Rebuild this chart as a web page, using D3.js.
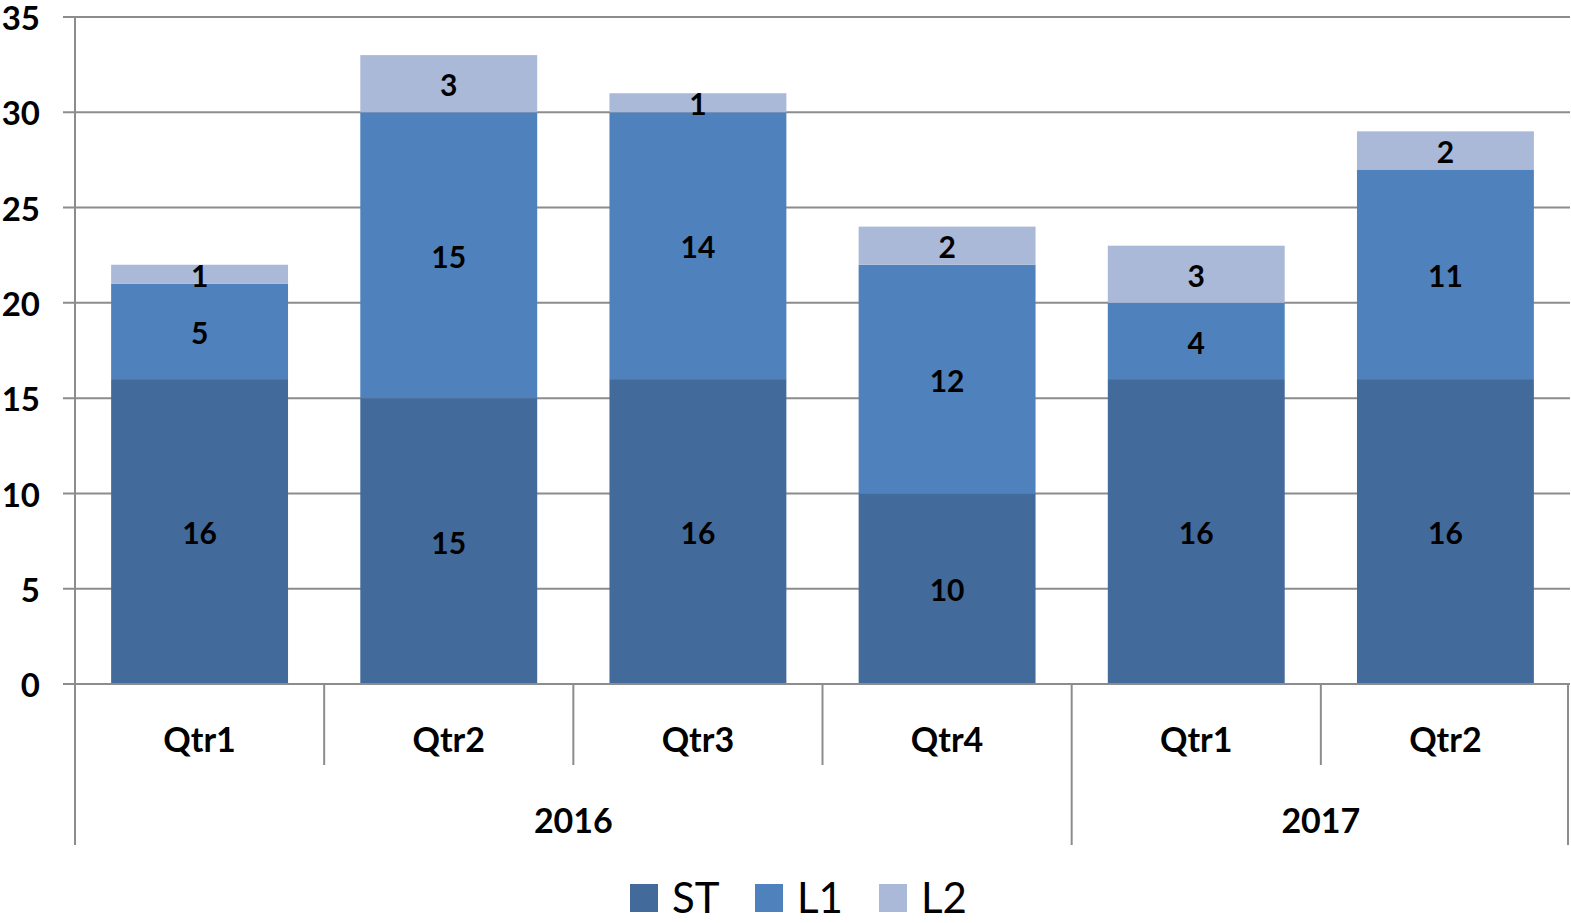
<!DOCTYPE html>
<html>
<head>
<meta charset="utf-8">
<script src="https://cdn.jsdelivr.net/npm/d3@7"></script>
<style>
  body { margin: 0; background: #fff; }
  text { font-family: Lato, "Open Sans", sans-serif; fill: #000; }
</style>
</head>
<body>
<div id="root"></div>
<script>
const width = 1571;
const height = 923;

const years = ['2016', '2016', '2016', '2016', '2017', '2017'];
const quarters = ['Qtr1', 'Qtr2', 'Qtr3', 'Qtr4', 'Qtr1', 'Qtr2'];
const seriesNames = ['ST', 'L1', 'L2'];
const ST = [16, 15, 16, 10, 16, 16];
const L1 = [5, 15, 14, 12, 4, 11];
const L2 = [1, 3, 1, 2, 3, 2];
const yTicks = [0, 5, 10, 15, 20, 25, 30, 35];

const colors = {ST: '#426a9b', L1: '#4f81bd', L2: '#aab9d7'};
const gridColor = '#8c8c8c';

const padding = {left: 75, right: 1, top: 17, bottom: 239};

const svg = d3.select('#root')
  .append('svg')
  .attr('width', width).attr('height', height);

const table = quarters.map((q, i) => ({i: i, ST: ST[i], L1: L1[i], L2: L2[i]}));
const stacked = d3.stack().keys(seriesNames)(table);

const xScale = d3.scaleBand()
  .domain(d3.range(quarters.length))
  .range([padding.left, width - padding.right])
  .paddingInner(0.29)
  .paddingOuter(0.145);

const yScale = d3.scaleLinear()
  .domain([0, 35])
  .range([height - padding.bottom, padding.top]);

const y0 = yScale(0);
const step = xScale.step();
const bandStart = i => padding.left + i * (width - padding.left - padding.right) / quarters.length;

// gridlines (with short ticks on the left)
svg.append('g')
  .selectAll('line')
  .data(yTicks)
  .enter()
  .append('line')
  .attr('x1', padding.left - 12)
  .attr('x2', width - padding.right)
  .attr('y1', d => yScale(d))
  .attr('y2', d => yScale(d))
  .attr('stroke', gridColor)
  .attr('stroke-width', 2);

// y axis line
svg.append('line')
  .attr('x1', padding.left).attr('x2', padding.left)
  .attr('y1', padding.top).attr('y2', y0)
  .attr('stroke', gridColor).attr('stroke-width', 2);

// y labels
svg.append('g')
  .selectAll('text')
  .data(yTicks)
  .enter()
  .append('text')
  .attr('x', 40)
  .attr('y', d => yScale(d))
  .attr('dy', '0.4em')
  .attr('text-anchor', 'end')
  .attr('font-size', 33)
  .attr('font-weight', 'bold')
  .text(d => d);

// bars
const layers = svg.append('g')
  .selectAll('g')
  .data(stacked)
  .enter()
  .append('g')
  .attr('fill', d => colors[d.key]);

layers.selectAll('rect')
  .data(d => d)
  .enter()
  .append('rect')
  .attr('x', (d, i) => xScale(i))
  .attr('width', xScale.bandwidth())
  .attr('y', d => yScale(d[1]))
  .attr('height', d => yScale(d[0]) - yScale(d[1]));

// data labels
layers.selectAll('text')
  .data(d => d.map(v => ({v: v, key: d.key})))
  .enter()
  .append('text')
  .attr('x', (d, i) => xScale(i) + xScale.bandwidth() / 2)
  .attr('y', d => yScale((d.v[0] + d.v[1]) / 2))
  .attr('dy', '0.42em')
  .attr('text-anchor', 'middle')
  .attr('font-size', 30)
  .attr('font-weight', 'bold')
  .text(d => d.v[1] - d.v[0]);

// redraw the zero line over the bars
svg.append('line')
  .attr('x1', padding.left - 12).attr('x2', width - padding.right)
  .attr('y1', y0).attr('y2', y0)
  .attr('stroke', gridColor).attr('stroke-width', 2);

// quarter dividers
const qDividers = d3.range(1, quarters.length).filter(i => years[i] === years[i - 1]);
svg.append('g')
  .selectAll('line')
  .data(qDividers)
  .enter()
  .append('line')
  .attr('x1', i => bandStart(i)).attr('x2', i => bandStart(i))
  .attr('y1', y0).attr('y2', y0 + 81)
  .attr('stroke', gridColor).attr('stroke-width', 2);

// year dividers
const yDividers = [0].concat(d3.range(1, quarters.length).filter(i => years[i] !== years[i - 1]), [quarters.length]);
svg.append('g')
  .selectAll('line')
  .data(yDividers)
  .enter()
  .append('line')
  .attr('x1', i => Math.min(bandStart(i), width - 3)).attr('x2', i => Math.min(bandStart(i), width - 3))
  .attr('y1', y0).attr('y2', y0 + 161)
  .attr('stroke', gridColor).attr('stroke-width', 2);

// quarter labels
svg.append('g')
  .selectAll('text')
  .data(quarters)
  .enter()
  .append('text')
  .attr('x', (d, i) => bandStart(i) + step / 2)
  .attr('y', y0 + 54)
  .attr('dy', '0.4em')
  .attr('text-anchor', 'middle')
  .attr('font-size', 34)
  .attr('font-weight', 'bold')
  .text(d => d);

// year labels
const yearGroups = d3.groups(years.map((y, i) => ({y: y, i: i})), d => d.y);
svg.append('g')
  .selectAll('text')
  .data(yearGroups)
  .enter()
  .append('text')
  .attr('x', d => (bandStart(d[1][0].i) + bandStart(d[1][d[1].length - 1].i + 1)) / 2)
  .attr('y', y0 + 135)
  .attr('dy', '0.4em')
  .attr('text-anchor', 'middle')
  .attr('font-size', 34)
  .attr('font-weight', 'bold')
  .text(d => d[0]);

// legend
const legendX = [630, 755, 879];
const legend = svg.append('g')
  .selectAll('g')
  .data(seriesNames)
  .enter()
  .append('g')
  .attr('transform', (d, i) => `translate(${legendX[i]}, 884)`);

legend.append('rect')
  .attr('width', 28).attr('height', 28)
  .attr('fill', d => colors[d]);

legend.append('text')
  .attr('x', 42)
  .attr('y', 29)
  .attr('font-size', 42)
  .text(d => d);
</script>
</body>
</html>
